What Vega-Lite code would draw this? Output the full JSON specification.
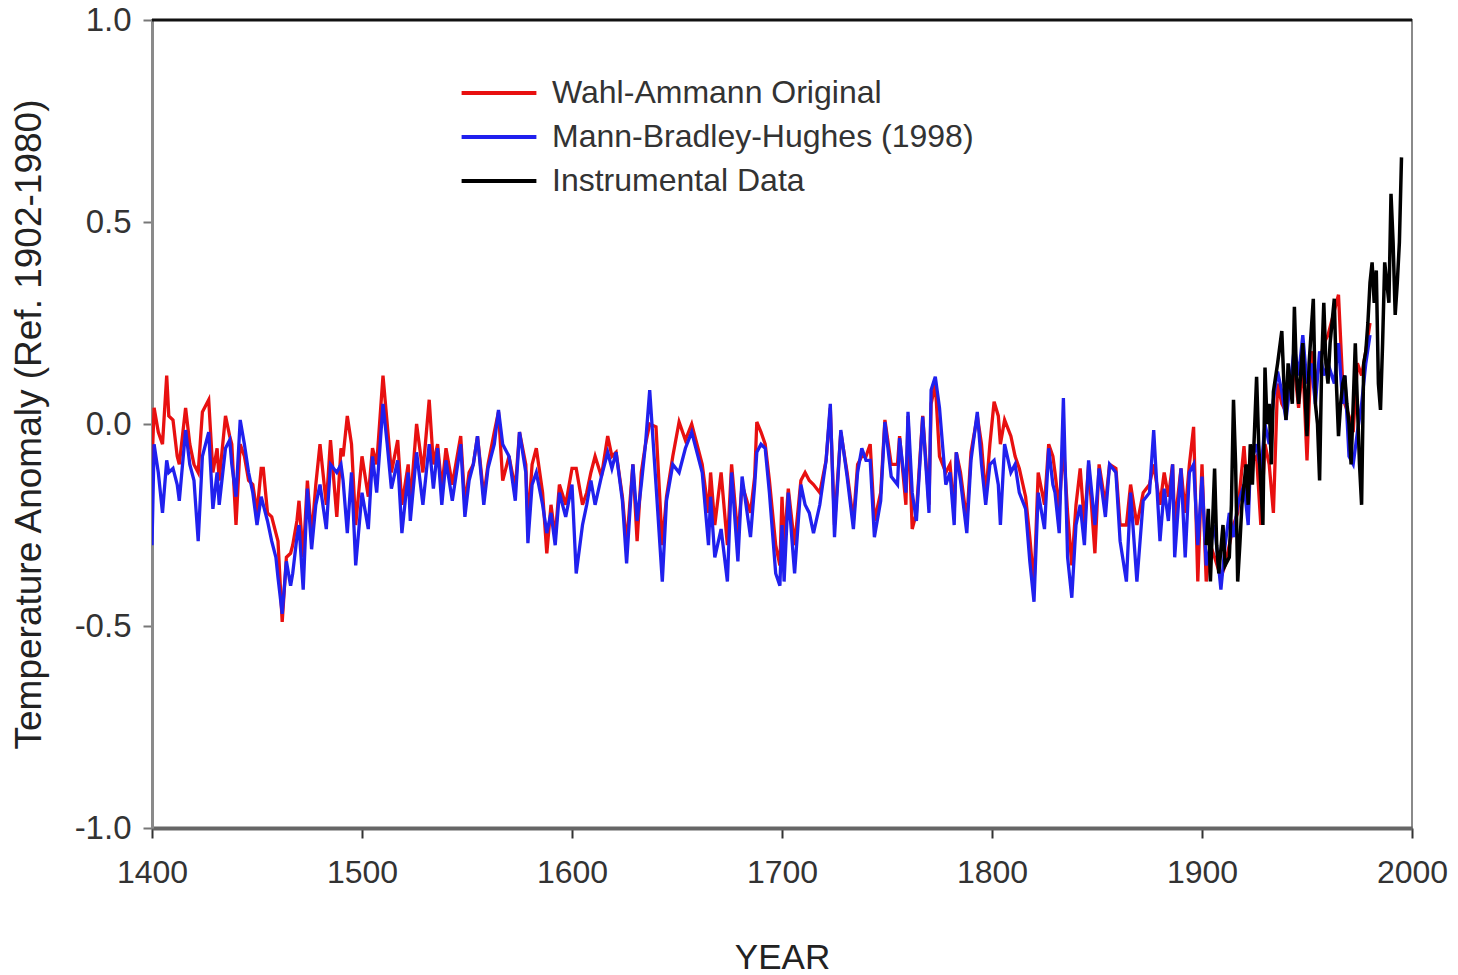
{
  "$schema": "https://vega.github.io/schema/vega-lite/v6.json",
  "width": 1260,
  "height": 808,
  "autosize": {"type": "none"},
  "padding": {"left": 152, "top": 20, "right": 46, "bottom": 147},
  "background": "white",
  "config": {
    "font": "Liberation Sans",
    "view": {"stroke": "#8a8a8a", "strokeWidth": 2},
    "axis": {"grid": false, "labelFont": "Liberation Sans", "titleFont": "Liberation Sans", "labelColor": "#333", "titleColor": "#222", "titleFontWeight": "normal"},
    "legend": {"labelFont": "Liberation Sans"}
  },
  "datasets": {
    "proxy": [
      {"year":1400,"mbh":-0.30,"wa":-0.10},{"year":1401,"mbh":-0.05,"wa":0.04},{"year":1403,"mbh":-0.12,"wa":-0.02},{"year":1405,"mbh":-0.22,"wa":-0.05},{"year":1407,"mbh":-0.09,"wa":0.12},{"year":1408,"mbh":-0.12,"wa":0.02},{"year":1410,"mbh":-0.11,"wa":0.01},{"year":1412,"mbh":-0.15,"wa":-0.08},{"year":1413,"mbh":-0.19,"wa":-0.10},{"year":1416,"mbh":-0.015,"wa":0.04},{"year":1418,"mbh":-0.10,"wa":-0.05},{"year":1420,"mbh":-0.14,"wa":-0.10},{"year":1422,"mbh":-0.29,"wa":-0.12},{"year":1424,"mbh":-0.08,"wa":0.03},{"year":1427,"mbh":-0.02,"wa":0.06},{"year":1429,"mbh":-0.21,"wa":-0.12},{"year":1431,"mbh":-0.12,"wa":-0.06},{"year":1432,"mbh":-0.20,"wa":-0.14},{"year":1435,"mbh":-0.06,"wa":0.02},{"year":1437,"mbh":-0.04,"wa":-0.03},{"year":1438,"mbh":-0.10,"wa":-0.05},{"year":1440,"mbh":-0.18,"wa":-0.25},{"year":1442,"mbh":0.01,"wa":-0.05},{"year":1444,"mbh":-0.05,"wa":-0.08},{"year":1446,"mbh":-0.12,"wa":-0.14},{"year":1448,"mbh":-0.17,"wa":-0.15},{"year":1450,"mbh":-0.25,"wa":-0.22},{"year":1452,"mbh":-0.18,"wa":-0.11},{"year":1453,"mbh":-0.20,"wa":-0.11},{"year":1455,"mbh":-0.24,"wa":-0.22},{"year":1457,"mbh":-0.29,"wa":-0.23},{"year":1459,"mbh":-0.33,"wa":-0.27},{"year":1460,"mbh":-0.38,"wa":-0.29},{"year":1462,"mbh":-0.47,"wa":-0.49},{"year":1464,"mbh":-0.34,"wa":-0.33},{"year":1466,"mbh":-0.40,"wa":-0.32},{"year":1467,"mbh":-0.37,"wa":-0.30},{"year":1469,"mbh":-0.28,"wa":-0.24},{"year":1470,"mbh":-0.25,"wa":-0.19},{"year":1472,"mbh":-0.41,"wa":-0.33},{"year":1474,"mbh":-0.16,"wa":-0.14},{"year":1476,"mbh":-0.31,"wa":-0.28},{"year":1478,"mbh":-0.20,"wa":-0.15},{"year":1480,"mbh":-0.15,"wa":-0.05},{"year":1483,"mbh":-0.26,"wa":-0.20},{"year":1485,"mbh":-0.10,"wa":-0.04},{"year":1488,"mbh":-0.12,"wa":-0.23},{"year":1490,"mbh":-0.10,"wa":-0.06},{"year":1491,"mbh":-0.14,"wa":-0.08},{"year":1493,"mbh":-0.27,"wa":0.02},{"year":1495,"mbh":-0.12,"wa":-0.05},{"year":1497,"mbh":-0.35,"wa":-0.25},{"year":1500,"mbh":-0.17,"wa":-0.08},{"year":1503,"mbh":-0.26,"wa":-0.18},{"year":1505,"mbh":-0.08,"wa":-0.06},{"year":1507,"mbh":-0.17,"wa":-0.10},{"year":1510,"mbh":0.05,"wa":0.12},{"year":1512,"mbh":-0.05,"wa":0.0},{"year":1514,"mbh":-0.16,"wa":-0.12},{"year":1517,"mbh":-0.09,"wa":-0.04},{"year":1519,"mbh":-0.27,"wa":-0.20},{"year":1522,"mbh":-0.12,"wa":-0.10},{"year":1523,"mbh":-0.24,"wa":-0.20},{"year":1526,"mbh":-0.07,"wa":0.0},{"year":1529,"mbh":-0.20,"wa":-0.12},{"year":1532,"mbh":-0.05,"wa":0.06},{"year":1534,"mbh":-0.16,"wa":-0.10},{"year":1536,"mbh":-0.06,"wa":-0.05},{"year":1538,"mbh":-0.20,"wa":-0.16},{"year":1540,"mbh":-0.09,"wa":-0.06},{"year":1543,"mbh":-0.19,"wa":-0.15},{"year":1547,"mbh":-0.05,"wa":-0.03},{"year":1549,"mbh":-0.23,"wa":-0.20},{"year":1551,"mbh":-0.14,"wa":-0.12},{"year":1553,"mbh":-0.10,"wa":-0.10},{"year":1555,"mbh":-0.03,"wa":-0.03},{"year":1558,"mbh":-0.20,"wa":-0.18},{"year":1560,"mbh":-0.11,"wa":-0.10},{"year":1563,"mbh":-0.05,"wa":-0.02},{"year":1565,"mbh":0.035,"wa":0.03},{"year":1567,"mbh":-0.05,"wa":-0.14},{"year":1570,"mbh":-0.08,"wa":-0.08},{"year":1573,"mbh":-0.19,"wa":-0.16},{"year":1575,"mbh":-0.02,"wa":-0.02},{"year":1578,"mbh":-0.12,"wa":-0.10},{"year":1579,"mbh":-0.295,"wa":-0.25},{"year":1581,"mbh":-0.15,"wa":-0.10},{"year":1583,"mbh":-0.12,"wa":-0.06},{"year":1586,"mbh":-0.20,"wa":-0.17},{"year":1588,"mbh":-0.27,"wa":-0.32},{"year":1590,"mbh":-0.22,"wa":-0.20},{"year":1592,"mbh":-0.30,"wa":-0.28},{"year":1594,"mbh":-0.17,"wa":-0.15},{"year":1597,"mbh":-0.23,"wa":-0.20},{"year":1600,"mbh":-0.15,"wa":-0.11},{"year":1602,"mbh":-0.37,"wa":-0.11},{"year":1605,"mbh":-0.25,"wa":-0.20},{"year":1607,"mbh":-0.20,"wa":-0.17},{"year":1609,"mbh":-0.14,"wa":-0.12},{"year":1611,"mbh":-0.20,"wa":-0.08},{"year":1614,"mbh":-0.13,"wa":-0.13},{"year":1617,"mbh":-0.07,"wa":-0.03},{"year":1619,"mbh":-0.11,"wa":-0.08},{"year":1621,"mbh":-0.07,"wa":-0.07},{"year":1624,"mbh":-0.19,"wa":-0.18},{"year":1626,"mbh":-0.345,"wa":-0.30},{"year":1629,"mbh":-0.10,"wa":-0.10},{"year":1631,"mbh":-0.24,"wa":-0.29},{"year":1633,"mbh":-0.15,"wa":-0.12},{"year":1635,"mbh":-0.05,"wa":-0.05},{"year":1637,"mbh":0.084,"wa":0.0},{"year":1640,"mbh":-0.15,"wa":-0.007},{"year":1643,"mbh":-0.39,"wa":-0.30},{"year":1645,"mbh":-0.19,"wa":-0.18},{"year":1648,"mbh":-0.10,"wa":-0.08},{"year":1651,"mbh":-0.12,"wa":0.005},{"year":1654,"mbh":-0.06,"wa":-0.04},{"year":1657,"mbh":-0.02,"wa":0.0},{"year":1660,"mbh":-0.08,"wa":-0.06},{"year":1662,"mbh":-0.12,"wa":-0.10},{"year":1665,"mbh":-0.30,"wa":-0.22},{"year":1666,"mbh":-0.18,"wa":-0.12},{"year":1668,"mbh":-0.33,"wa":-0.25},{"year":1671,"mbh":-0.26,"wa":-0.12},{"year":1674,"mbh":-0.39,"wa":-0.30},{"year":1676,"mbh":-0.12,"wa":-0.10},{"year":1679,"mbh":-0.34,"wa":-0.28},{"year":1681,"mbh":-0.13,"wa":-0.15},{"year":1685,"mbh":-0.28,"wa":-0.22},{"year":1687,"mbh":-0.15,"wa":-0.13},{"year":1688,"mbh":-0.07,"wa":0.005},{"year":1690,"mbh":-0.05,"wa":-0.02},{"year":1692,"mbh":-0.06,"wa":-0.05},{"year":1694,"mbh":-0.17,"wa":-0.14},{"year":1697,"mbh":-0.37,"wa":-0.30},{"year":1699,"mbh":-0.40,"wa":-0.35},{"year":1700,"mbh":-0.25,"wa":-0.18},{"year":1701,"mbh":-0.39,"wa":-0.30},{"year":1703,"mbh":-0.17,"wa":-0.16},{"year":1706,"mbh":-0.37,"wa":-0.30},{"year":1709,"mbh":-0.15,"wa":-0.14},{"year":1711,"mbh":-0.20,"wa":-0.12},{"year":1713,"mbh":-0.22,"wa":-0.14},{"year":1715,"mbh":-0.27,"wa":-0.15},{"year":1718,"mbh":-0.20,"wa":-0.17},{"year":1721,"mbh":-0.09,"wa":-0.09},{"year":1723,"mbh":0.05,"wa":0.04},{"year":1725,"mbh":-0.28,"wa":-0.25},{"year":1728,"mbh":-0.015,"wa":-0.02},{"year":1731,"mbh":-0.13,"wa":-0.12},{"year":1734,"mbh":-0.26,"wa":-0.24},{"year":1736,"mbh":-0.12,"wa":-0.10},{"year":1738,"mbh":-0.06,"wa":-0.08},{"year":1740,"mbh":-0.09,"wa":-0.08},{"year":1742,"mbh":-0.09,"wa":-0.05},{"year":1744,"mbh":-0.28,"wa":-0.24},{"year":1747,"mbh":-0.19,"wa":-0.17},{"year":1749,"mbh":0.005,"wa":0.01},{"year":1752,"mbh":-0.13,"wa":-0.10},{"year":1755,"mbh":-0.15,"wa":-0.10},{"year":1756,"mbh":-0.035,"wa":-0.03},{"year":1759,"mbh":-0.17,"wa":-0.20},{"year":1760,"mbh":0.03,"wa":0.02},{"year":1762,"mbh":-0.17,"wa":-0.26},{"year":1764,"mbh":-0.24,"wa":-0.22},{"year":1767,"mbh":0.018,"wa":0.02},{"year":1770,"mbh":-0.22,"wa":-0.20},{"year":1771,"mbh":0.084,"wa":0.05},{"year":1773,"mbh":0.117,"wa":0.10},{"year":1775,"mbh":0.04,"wa":-0.08},{"year":1778,"mbh":-0.15,"wa":-0.12},{"year":1780,"mbh":-0.12,"wa":-0.10},{"year":1782,"mbh":-0.25,"wa":-0.22},{"year":1783,"mbh":-0.07,"wa":-0.07},{"year":1785,"mbh":-0.14,"wa":-0.12},{"year":1788,"mbh":-0.27,"wa":-0.24},{"year":1790,"mbh":-0.09,"wa":-0.07},{"year":1793,"mbh":0.03,"wa":0.02},{"year":1795,"mbh":-0.10,"wa":-0.05},{"year":1797,"mbh":-0.20,"wa":-0.18},{"year":1799,"mbh":-0.10,"wa":-0.05},{"year":1801,"mbh":-0.09,"wa":0.055},{"year":1803,"mbh":-0.15,"wa":0.02},{"year":1804,"mbh":-0.25,"wa":-0.05},{"year":1806,"mbh":-0.05,"wa":0.01},{"year":1809,"mbh":-0.12,"wa":-0.03},{"year":1811,"mbh":-0.10,"wa":-0.08},{"year":1813,"mbh":-0.17,"wa":-0.11},{"year":1816,"mbh":-0.21,"wa":-0.18},{"year":1818,"mbh":-0.34,"wa":-0.28},{"year":1820,"mbh":-0.44,"wa":-0.40},{"year":1822,"mbh":-0.17,"wa":-0.12},{"year":1825,"mbh":-0.26,"wa":-0.20},{"year":1827,"mbh":-0.06,"wa":-0.05},{"year":1829,"mbh":-0.15,"wa":-0.08},{"year":1830,"mbh":-0.17,"wa":-0.12},{"year":1832,"mbh":-0.27,"wa":-0.21},{"year":1834,"mbh":0.064,"wa":-0.05},{"year":1836,"mbh":-0.33,"wa":-0.22},{"year":1838,"mbh":-0.43,"wa":-0.35},{"year":1840,"mbh":-0.25,"wa":-0.20},{"year":1842,"mbh":-0.20,"wa":-0.11},{"year":1844,"mbh":-0.30,"wa":-0.25},{"year":1846,"mbh":-0.09,"wa":-0.10},{"year":1849,"mbh":-0.25,"wa":-0.32},{"year":1851,"mbh":-0.11,"wa":-0.10},{"year":1854,"mbh":-0.23,"wa":-0.20},{"year":1856,"mbh":-0.10,"wa":-0.10},{"year":1859,"mbh":-0.12,"wa":-0.11},{"year":1861,"mbh":-0.29,"wa":-0.25},{"year":1864,"mbh":-0.39,"wa":-0.25},{"year":1866,"mbh":-0.17,"wa":-0.15},{"year":1869,"mbh":-0.39,"wa":-0.25},{"year":1872,"mbh":-0.19,"wa":-0.17},{"year":1875,"mbh":-0.17,"wa":-0.15},{"year":1877,"mbh":-0.015,"wa":-0.10},{"year":1880,"mbh":-0.29,"wa":-0.20},{"year":1882,"mbh":-0.16,"wa":-0.12},{"year":1884,"mbh":-0.24,"wa":-0.18},{"year":1886,"mbh":-0.10,"wa":-0.10},{"year":1887,"mbh":-0.33,"wa":-0.25},{"year":1890,"mbh":-0.11,"wa":-0.11},{"year":1892,"mbh":-0.33,"wa":-0.22},{"year":1894,"mbh":-0.12,"wa":-0.10},{"year":1896,"mbh":-0.10,"wa":-0.007},{"year":1898,"mbh":-0.30,"wa":-0.39},{"year":1900,"mbh":-0.13,"wa":-0.10},{"year":1902,"mbh":-0.35,"wa":-0.39},{"year":1904,"mbh":-0.30,"wa":-0.30},{"year":1906,"mbh":-0.25,"wa":-0.33},{"year":1909,"mbh":-0.41,"wa":-0.38},{"year":1911,"mbh":-0.30,"wa":-0.35},{"year":1913,"mbh":-0.22,"wa":-0.30},{"year":1915,"mbh":-0.28,"wa":-0.25},{"year":1917,"mbh":-0.20,"wa":-0.22},{"year":1920,"mbh":-0.15,"wa":-0.055},{"year":1922,"mbh":-0.25,"wa":-0.20},{"year":1923,"mbh":-0.10,"wa":-0.10},{"year":1926,"mbh":-0.05,"wa":-0.08},{"year":1928,"mbh":-0.12,"wa":-0.25},{"year":1930,"mbh":0.0,"wa":-0.05},{"year":1932,"mbh":-0.05,"wa":-0.10},{"year":1934,"mbh":0.06,"wa":-0.22},{"year":1936,"mbh":0.13,"wa":0.10},{"year":1938,"mbh":0.08,"wa":0.05},{"year":1940,"mbh":0.01,"wa":0.03},{"year":1942,"mbh":0.10,"wa":0.12},{"year":1944,"mbh":0.19,"wa":0.14},{"year":1946,"mbh":0.12,"wa":0.04},{"year":1948,"mbh":0.22,"wa":0.15},{"year":1950,"mbh":0.10,"wa":-0.09},{"year":1952,"mbh":0.15,"wa":0.18},{"year":1954,"mbh":0.05,"wa":0.10},{"year":1956,"mbh":0.18,"wa":0.15},{"year":1958,"mbh":0.12,"wa":0.20},{"year":1960,"mbh":0.15,"wa":0.22},{"year":1963,"mbh":0.10,"wa":0.28},{"year":1965,"mbh":0.20,"wa":0.32},{"year":1967,"mbh":0.05,"wa":0.10},{"year":1968,"mbh":0.12,"wa":0.05},{"year":1970,"mbh":-0.08,"wa":0.02},{"year":1972,"mbh":-0.10,"wa":-0.02},{"year":1974,"mbh":-0.02,"wa":0.15},{"year":1976,"mbh":0.05,"wa":0.12},{"year":1978,"mbh":0.15,"wa":0.18},{"year":1980,"mbh":0.22,"wa":0.25}
    ],
    "inst": [
      {"year":1902,"value":-0.30},{"year":1903,"value":-0.21},{"year":1904,"value":-0.39},{"year":1906,"value":-0.11},{"year":1907,"value":-0.30},{"year":1908,"value":-0.37},{"year":1910,"value":-0.25},{"year":1911,"value":-0.35},{"year":1913,"value":-0.33},{"year":1914,"value":-0.20},{"year":1915,"value":0.06},{"year":1916,"value":-0.10},{"year":1917,"value":-0.39},{"year":1918,"value":-0.30},{"year":1919,"value":-0.20},{"year":1921,"value":-0.10},{"year":1922,"value":-0.20},{"year":1923,"value":-0.05},{"year":1924,"value":-0.15},{"year":1926,"value":0.117},{"year":1927,"value":-0.05},{"year":1929,"value":-0.25},{"year":1930,"value":0.14},{"year":1931,"value":0.0},{"year":1932,"value":0.05},{"year":1933,"value":-0.10},{"year":1934,"value":0.08},{"year":1936,"value":0.15},{"year":1938,"value":0.23},{"year":1939,"value":0.10},{"year":1940,"value":0.01},{"year":1941,"value":0.15},{"year":1943,"value":0.05},{"year":1944,"value":0.29},{"year":1945,"value":0.12},{"year":1946,"value":0.05},{"year":1948,"value":0.20},{"year":1949,"value":0.08},{"year":1950,"value":-0.03},{"year":1951,"value":0.15},{"year":1953,"value":0.31},{"year":1954,"value":0.05},{"year":1955,"value":0.0},{"year":1956,"value":-0.14},{"year":1957,"value":0.15},{"year":1958,"value":0.30},{"year":1959,"value":0.15},{"year":1960,"value":0.10},{"year":1961,"value":0.20},{"year":1963,"value":0.31},{"year":1964,"value":0.10},{"year":1965,"value":-0.03},{"year":1966,"value":0.05},{"year":1967,"value":0.10},{"year":1968,"value":0.12},{"year":1969,"value":0.05},{"year":1970,"value":0.0},{"year":1971,"value":-0.10},{"year":1973,"value":0.20},{"year":1974,"value":0.05},{"year":1975,"value":-0.10},{"year":1976,"value":-0.20},{"year":1977,"value":0.15},{"year":1978,"value":0.18},{"year":1979,"value":0.25},{"year":1980,"value":0.35},{"year":1981,"value":0.40},{"year":1982,"value":0.30},{"year":1983,"value":0.38},{"year":1984,"value":0.10},{"year":1985,"value":0.035},{"year":1986,"value":0.20},{"year":1987,"value":0.40},{"year":1988,"value":0.35},{"year":1989,"value":0.30},{"year":1990,"value":0.57},{"year":1991,"value":0.45},{"year":1992,"value":0.27},{"year":1993,"value":0.35},{"year":1994,"value":0.45},{"year":1995,"value":0.66}
    ],
    "top": [{"v": 1}]
  },
  "layer": [
    {
      "data": {"name": "proxy"},
      "mark": {"type": "line", "strokeWidth": 3.3, "clip": true},
      "encoding": {
        "x": {"field": "year", "type": "quantitative", "scale": {"domain": [1400, 2000], "nice": false},
          "axis": {"values": [1400,1500,1600,1700,1800,1900,2000], "format": "d", "labelFlush": false, "title": "YEAR", "labelFontSize": 32, "titleFontSize": 35, "labelPadding": 19, "titlePadding": 52, "tickSize": 10, "tickWidth": 2, "tickColor": "#333", "domainColor": "#666", "domainWidth": 4}},
        "y": {"field": "wa", "type": "quantitative", "scale": {"domain": [-1, 1], "nice": false},
          "axis": {"values": [-1,-0.5,0,0.5,1], "labelExpr": "replace(format(datum.value, '.1f'), '\u2212', '-')", "labelFlush": false, "title": "Temperature Anomaly (Ref. 1902-1980)", "labelFontSize": 33, "titleFontSize": 37, "labelPadding": 12, "titlePadding": 26, "tickSize": 9, "tickWidth": 2, "tickColor": "#777", "domainColor": "#8a8a8a", "domainWidth": 3}},
        "color": {"datum": "Wahl-Ammann Original", "type": "nominal",
          "scale": {"domain": ["Wahl-Ammann Original", "Mann-Bradley-Hughes (1998)", "Instrumental Data"], "range": ["#e81010", "#2020ee", "#000000"]},
          "legend": {"title": null, "orient": "none", "legendX": 323, "legendY": 49, "symbolType": "M-1.7,0L1.7,0", "symbolSize": 1936, "symbolStrokeWidth": 4, "labelFontSize": 32, "labelColor": "#333", "labelOffset": 29, "rowPadding": 4, "labelLimit": 600}}
      }
    },
    {
      "data": {"name": "proxy"},
      "mark": {"type": "line", "strokeWidth": 3.3, "clip": true},
      "encoding": {
        "x": {"field": "year", "type": "quantitative"},
        "y": {"field": "mbh", "type": "quantitative"},
        "color": {"datum": "Mann-Bradley-Hughes (1998)", "type": "nominal"}
      }
    },
    {
      "data": {"name": "inst"},
      "mark": {"type": "line", "strokeWidth": 3.5, "clip": true},
      "encoding": {
        "x": {"field": "year", "type": "quantitative"},
        "y": {"field": "value", "type": "quantitative"},
        "color": {"datum": "Instrumental Data", "type": "nominal"}
      }
    },
    {
      "data": {"name": "top"},
      "mark": {"type": "rule", "color": "#111", "strokeWidth": 3},
      "encoding": {"y": {"field": "v", "type": "quantitative"}}
    }
  ]
}
